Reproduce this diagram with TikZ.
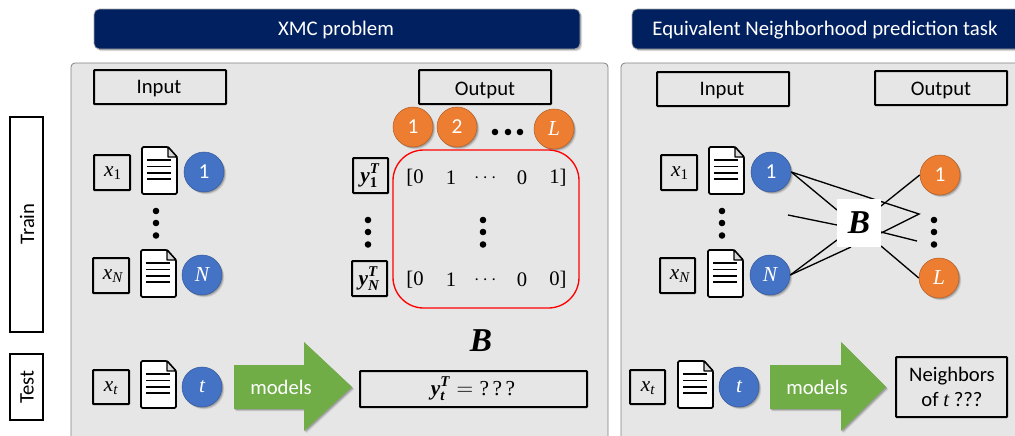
\documentclass[tikz,border=0pt]{standalone}
\usepackage{amsmath}
\usepackage{fontspec}
\setmainfont{Carlito}
\newfontfamily\mfont{Liberation Serif}
\newcommand{\mv}[1]{\text{\mfont\itshape #1}}
\newcommand{\mr}[1]{\text{\mfont #1}}
\newcommand{\mb}[1]{\text{\mfont\bfseries\itshape #1}}
\newcommand{\mbr}[1]{\text{\mfont\bfseries #1}}
\usetikzlibrary{fit,shadows}
\definecolor{navy}{HTML}{002060}
\definecolor{panelgray}{HTML}{E7E6E6}
\definecolor{bluec}{HTML}{4472C4}
\definecolor{orangec}{HTML}{ED7D31}
\definecolor{greenc}{HTML}{70AD47}
\tikzset{
  softshadow/.style={
    drop shadow={shadow xshift=0.8pt,shadow yshift=-0.8pt,opacity=.16,fill=black,shadow scale=1},
    drop shadow={shadow xshift=1.3pt,shadow yshift=-1.3pt,opacity=.11,fill=black,shadow scale=1},
    drop shadow={shadow xshift=1.8pt,shadow yshift=-1.8pt,opacity=.07,fill=black,shadow scale=1}},
  header/.style={fit={#1},inner sep=0pt,rounded corners=4pt,fill=navy,draw=gray!70,line width=.5pt,softshadow},
  panel/.style={fit={#1},inner sep=0pt,rounded corners=3pt,fill=panelgray,draw=gray,line width=.6pt},
  plainbox/.style={fit={#1},inner sep=0pt,rounded corners=.5pt,draw=black,line width=1.5pt,fill=none},
  whitebox/.style={fit={#1},inner sep=0pt,draw=black,line width=1.5pt,fill=white},
  boxtext/.style={inner sep=0pt,font=\fontsize{15.5}{19}\selectfont,align=center},
  mathtext/.style={inner sep=0pt,font=\fontsize{16}{19}\selectfont},
  headtext/.style={inner sep=0pt,text=white,font=\fontsize{15.6}{18}\selectfont},
  bluedot/.style={circle,minimum size=30pt,inner sep=0pt,fill=bluec,draw=bluec!80!black,line width=.4pt,text=white,softshadow,font=\fontsize{16}{18}\selectfont},
  orangedot/.style={circle,minimum size=30pt,inner sep=0pt,fill=orangec,draw=orangec!75!black,line width=.4pt,text=white,softshadow,font=\fontsize{16}{18}\selectfont},
  wire/.style={draw=black,line width=1pt},
  bigarrow/.style={fill=greenc,softshadow},
  matrixtext/.style={inner sep=0pt,font=\fontsize{15.5}{18}\selectfont},
  bigB/.style={inner sep=0pt,font=\fontsize{25}{28}\selectfont},
  docicon/.pic={
    \draw[line width=1.3pt,fill=white,line join=round,rounded corners=1pt]
      (0,0) -- (26,0) -- (35,10) -- (35,47) -- (0,47) -- cycle;
    \draw[line width=1pt,fill=gray!30,line join=round] (26,0) -- (26,10) -- (35,10) -- cycle;
    \foreach \ly in {13,19.5,26,32}
      \draw[line width=1.3pt] (5,\ly) -- (29,\ly);
  },
  vdots/.pic={\foreach \dy in {0,12,24.5} \fill (0,\dy) circle[radius=3.3];},
}
\begin{document}
\begin{tikzpicture}[x=0.75pt,y=-0.75pt]
\useasboundingbox (0,0) rectangle (1015,436);
% panels
\node[panel={(71,63)(608,445)}] (panelA) {};
\node[panel={(621,63)(1030,445)}] (panelB) {};
% headers
\node[header={(94,9)(580,49)}] (headA) {};
\node[headtext] at (336,30) {XMC problem};
\node[header={(632,9)(1030,49)}] (headB) {};
\node[headtext] at (825,30) {Equivalent Neighborhood prediction task};
% side boxes
\node[whitebox={(10,117)(43,332)}] (train) {};
\node[boxtext,rotate=90] at (27,224) {Train};
\node[whitebox={(10,354)(43,420)}] (test) {};
\node[boxtext,rotate=90] at (27,387) {Test};
% headings
\node[plainbox={(94,70)(226,104)}] (inA) {};
\node[boxtext] at (159,89) {Input};
\node[plainbox={(419,70)(551,104)}] (outA) {};
\node[boxtext] at (485,90) {Output};
\node[plainbox={(657,72)(789,106)}] (inB) {};
\node[boxtext] at (722,91) {Input};
\node[plainbox={(875,71)(1007,105)}] (outB) {};
\node[boxtext] at (941,90) {Output};
% left panel inputs
\node[plainbox={(94,155)(130,190)}] (xoneA) {};
\node[mathtext] at (113,173) {$\mv{x}_{\mr{1}}$};
\node[plainbox={(93,258)(129,293)}] (xnA) {};
\node[mathtext] at (113,276) {$\mv{x}_{\mv{N}}$};
\node[plainbox={(93,370)(129,404)}] (xtA) {};
\node[mathtext] at (111,388) {$\mv{x}_{\mv{t}}$};
\pic at (142,147) {docicon};
\pic at (141,250) {docicon};
\pic at (141,361) {docicon};
\pic at (156,211) {vdots};
\node[bluedot] (oneA) at (204,172) {1};
\node[bluedot] (nA) at (202,275) {$\mv{N}$};
\node[bluedot] (tA) at (202,387) {$\mv{t}$};
% left panel outputs
\node[orangedot] (lab1) at (413,127) {1};
\node[orangedot] (lab2) at (457,127) {2};
\node[orangedot] (labL) at (554,129) {$\mv{L}$};
\foreach \dx in {495,508,520} \fill (\dx,132) circle[radius=3.3];
\node[plainbox={(353,158)(388,193)}] (yone) {};
\node[mathtext] at (370,176) {$\mb{y}_{\mbr{1}}^{\mb{T}}$};
\node[plainbox={(352,261)(387,296)}] (yn) {};
\node[mathtext] at (369,279) {$\mb{y}_{\mb{N}}^{\mb{T}}$};
\pic at (368,220) {vdots};
\pic at (483,220) {vdots};
\node[fit={(393,150)(579,308)},inner sep=0pt,draw=red,line width=1pt,rounded corners=23pt] (redbox) {};
\foreach \px/\ent in {415/{$\mr{[0}$},451/{$\mr{1}$},487/{$\cdots$},522/{$\mr{0}$},558/{$\mr{1]}$}}
  \node[matrixtext] at (\px,178) {\ent};
\foreach \px/\ent in {415/{$\mr{[0}$},451/{$\mr{1}$},487/{$\cdots$},522/{$\mr{0}$},558/{$\mr{0]}$}}
  \node[matrixtext] at (\px,280) {\ent};
\node[bigB] (bA) at (481,341) {$\mb{B}$};
\node[plainbox={(360,371)(587,407)}] (ytbox) {};
\node[mathtext] at (473,389) {$\mb{y}_{\mb{t}}^{\mb{T}}=\mr{?\,?\,?}$};
% left panel arrow
\path[bigarrow] (234,365) -- (304,365) -- (304,342) -- (352,387) -- (304,431) -- (304,409) -- (234,409) -- cycle;
\node[boxtext,text=white] (modelsA) at (281,387) {models};
% right panel inputs
\node[plainbox={(661,155)(697,190)}] (xoneB) {};
\node[mathtext] at (680,173) {$\mv{x}_{\mr{1}}$};
\node[plainbox={(660,258)(695,293)}] (xnB) {};
\node[mathtext] at (680,276) {$\mv{x}_{\mv{N}}$};
\node[plainbox={(630,370)(665,404)}] (xtB) {};
\node[mathtext] at (648,388) {$\mv{x}_{\mv{t}}$};
\pic at (709,147) {docicon};
\pic at (708,250) {docicon};
\pic at (678,361) {docicon};
\pic at (722,211) {vdots};
\node[bluedot] (oneB) at (771,172) {1};
\node[bluedot] (nB) at (770,275) {$\mv{N}$};
\node[bluedot] (tB) at (739,387) {$\mv{t}$};
\node[orangedot] (out1) at (940,175) {1};
\node[orangedot] (outL) at (939,278) {$\mv{L}$};
\pic at (934,220) {vdots};
% free line ends
\coordinate (midIn) at (788,215);
\coordinate (fork) at (919,214);
\coordinate (midOut) at (917,241);
\coordinate (bEast) at (881,233);
\coordinate (bWest) at (837,225);
\coordinate (bNW) at (837,210);
\coordinate (bSW) at (837,240);
\coordinate (bS) at (851,247);
\coordinate (bNE) at (881,206);
\coordinate (bSE) at (881,246);
\coordinate (bE2) at (881,232);
% wires
\draw[wire] (oneB.east) -- (bNW);
\draw[wire] (oneB.east) -- (fork) -- (bEast);
\draw[wire] (midIn) -- (bWest);
\draw[wire] (nB.east) -- (bSW);
\draw[wire] (nB.east) -- (bS);
\draw[wire] (bE2) -- (midOut);
\draw[wire] (bNE) -- (out1.west);
\draw[wire] (bSE) -- (outL.west);
\node[fill=white,fit={(837,199)(881,247)},inner sep=0pt] (bB) {};
\node[bigB] at (859,223) {$\mb{B}$};
% right panel arrow
\path[bigarrow] (770,365) -- (841,365) -- (841,342) -- (886,387) -- (841,431) -- (841,409) -- (770,409) -- cycle;
\node[boxtext,text=white] (modelsB) at (817,387) {models};
\node[plainbox={(896,357)(1007,417)}] (neigh) {};
\node[boxtext] at (952,387) {Neighbors\\of {\mfont\itshape t} ???};
\end{tikzpicture}
\end{document}
